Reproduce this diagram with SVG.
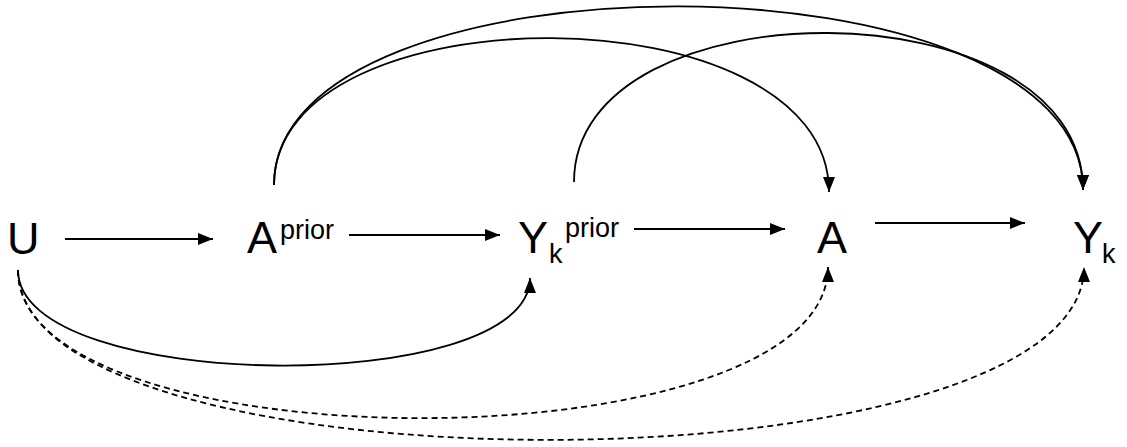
<svg xmlns="http://www.w3.org/2000/svg" width="1127" height="447" viewBox="0 0 1127 447">
  <defs>
    <marker id="arrow" viewBox="0 0 15 12" refX="15" refY="6" markerWidth="15" markerHeight="12" markerUnits="userSpaceOnUse" orient="auto">
      <path d="M0,0 L15,6 L0,12 z" fill="#000"/>
    </marker>
    <style>
      .lbl { font-family: "Liberation Sans", Arial, sans-serif; font-size: 45px; fill: #000; }
      .sm { font-size: 27px; }
      .edge { fill: none; stroke: #000; stroke-width: 1.8; marker-end: url(#arrow); }
      .dash { stroke-dasharray: 6 4; }
    </style>
  </defs>
  <rect width="1127" height="447" fill="#fff"/>

  <g id="connectors">
    <line class="edge" x1="65" y1="239" x2="213" y2="239"/>
    <line class="edge" x1="349" y1="235" x2="500" y2="235"/>
    <line class="edge" x1="634" y1="229" x2="785" y2="229"/>
    <line class="edge" x1="875" y1="223" x2="1025" y2="223"/>
    <path class="edge" d="M274,185 C274,-12 829,-12 829,192"/>
    <path class="edge" d="M274,185 C274,-54 1083,-54 1083,190"/>
    <path class="edge" d="M574,182 C574,-18 1083,-18 1083,190"/>
    <path class="edge" d="M18,270 C18,394 530,398 530,278"/>
    <path class="edge dash" d="M18,270 C18,468 828,468 828,267"/>
    <path class="edge dash" d="M18,270 C18,497 1084,497 1084,267"/>
  </g>

  <g id="node-U">
    <text class="lbl" x="7" y="254">U</text>
  </g>
  <g id="node-Aprior">
    <text class="lbl" x="247" y="253">A</text>
    <text class="lbl sm" x="280" y="239">prior</text>
  </g>
  <g id="node-Ykprior">
    <text class="lbl" x="518" y="253">Y</text>
    <text class="lbl sm" x="549" y="263">k</text>
    <text class="lbl sm" x="565" y="237">prior</text>
  </g>
  <g id="node-A">
    <text class="lbl" x="817" y="253">A</text>
  </g>
  <g id="node-Yk">
    <text class="lbl" x="1073" y="253">Y</text>
    <text class="lbl sm" x="1102" y="263">k</text>
  </g>
</svg>
